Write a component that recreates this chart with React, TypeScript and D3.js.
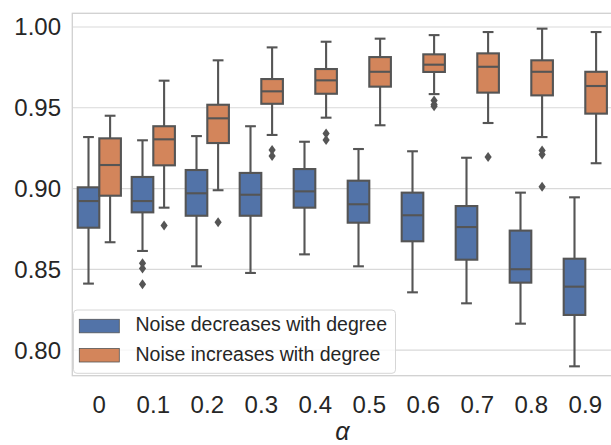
import React from "react";
import * as d3 from "d3";

const categories = ["0", "0.1", "0.2", "0.3", "0.4", "0.5", "0.6", "0.7", "0.8", "0.9"];
const seriesNames = ["Noise decreases with degree", "Noise increases with degree"];
const yTicks = [0.8, 0.85, 0.9, 0.95, 1.0];

// Blue series: Noise decreases with degree
const decLow = [0.8412, 0.8614, 0.8519, 0.8478, 0.8593, 0.8519, 0.8358, 0.829, 0.8164, 0.79];
const decQ1 = [0.8758, 0.8853, 0.8832, 0.8832, 0.8882, 0.8789, 0.8674, 0.856, 0.8418, 0.8218];
const decMed = [0.8923, 0.8923, 0.8971, 0.8962, 0.8983, 0.8903, 0.8835, 0.8762, 0.8501, 0.8393];
const decQ3 = [0.9008, 0.9072, 0.9115, 0.9097, 0.9121, 0.9049, 0.8975, 0.8892, 0.874, 0.8566];
const decHigh = [0.9319, 0.9299, 0.9325, 0.9386, 0.929, 0.9245, 0.9231, 0.9191, 0.8975, 0.8946];
const decOut = [[], [0.8538, 0.8505, 0.8408], [], [], [], [], [], [], [], []];

// Orange series: Noise increases with degree
const incLow = [0.8668, 0.8882, 0.899, 0.9332, 0.9439, 0.9392, 0.9585, 0.9406, 0.9319, 0.9157];
const incQ1 = [0.8956, 0.9144, 0.9282, 0.9525, 0.9587, 0.9631, 0.9722, 0.9594, 0.9577, 0.9464];
const incMed = [0.9146, 0.9305, 0.9435, 0.9602, 0.967, 0.9723, 0.9767, 0.9754, 0.9723, 0.9635];
const incQ3 = [0.9311, 0.9386, 0.9519, 0.9678, 0.974, 0.9814, 0.9831, 0.9837, 0.9794, 0.9723];
const incHigh = [0.9451, 0.9668, 0.9794, 0.9874, 0.9909, 0.9928, 0.995, 0.9969, 0.999, 0.9969];
const incOut = [[], [0.8771], [0.8791], [0.9239, 0.9202], [0.9341, 0.9301], [], [0.9545, 0.952, 0.951], [0.9196], [0.9236, 0.9211, 0.9012], []];

const colors = ["#5273a8", "#d3855b"];
const lineColor = "#555555";
const gridColor = "#d9d9d9";
const textColor = "#262626";
const font = "Arial, 'Liberation Sans', sans-serif";

const series = [
  { name: seriesNames[0], low: decLow, q1: decQ1, med: decMed, q3: decQ3, high: decHigh, out: decOut },
  { name: seriesNames[1], low: incLow, q1: incQ1, med: incMed, q3: incQ3, high: incHigh, out: incOut },
];

export default function App() {
  const W = 611, H = 445;
  const left = 72.3, right = 612.3, top = 13.3, bottom = 375.7;
  const x = d3.scaleBand<string>().domain(categories).range([left, right]).padding(0);
  const step = x.step();
  const inner = d3.scaleBand<string>().domain(seriesNames).range([0.1 * step, 0.9 * step]).padding(0);
  const y = d3.scaleLinear().domain([0.7842, 1.0085]).range([bottom, top]);
  const bw = inner.bandwidth();
  const lw = 2.1;

  const diamond = (cx: number, cy: number) =>
    `M${cx},${cy - 5}L${cx + 3.6},${cy}L${cx},${cy + 5}L${cx - 3.6},${cy}Z`;

  return (
    <svg width={W} height={H} style={{ position: "absolute", left: 0, top: 0 }} fontFamily={font}>
      <rect x={0} y={0} width={W} height={H} fill="#fff" />
      {yTicks.map((t) => (
        <line key={t} x1={left} x2={right} y1={y(t)} y2={y(t)} stroke={gridColor} strokeWidth={1.1} />
      ))}
      <rect x={left} y={top} width={right - left} height={bottom - top} fill="none" stroke="#d0d0d0" strokeWidth={1.3} />
      {yTicks.map((t) => (
        <text key={t} x={61} y={y(t)} dy="0.35em" textAnchor="end" fontSize={24} fill={textColor}>
          {d3.format(".2f")(t)}
        </text>
      ))}
      {categories.map((c) => (
        <text key={c} x={(x(c) as number) + step / 2} y={413} textAnchor="middle" fontSize={24} fill={textColor}>
          {c}
        </text>
      ))}
      <text x={(left + right) / 2} y={440} textAnchor="middle" fontSize={25} fontStyle="italic" fill={textColor}>
        α
      </text>
      {series.map((s, si) =>
        categories.map((c, i) => {
          const x0 = (x(c) as number) + (inner(s.name) as number);
          const cx = x0 + bw / 2;
          return (
            <g key={`${si}-${c}`}>
              <line x1={cx} x2={cx} y1={y(s.high[i])} y2={y(s.q3[i])} stroke={lineColor} strokeWidth={lw} />
              <line x1={cx} x2={cx} y1={y(s.q1[i])} y2={y(s.low[i])} stroke={lineColor} strokeWidth={lw} />
              <line x1={cx - bw / 4} x2={cx + bw / 4} y1={y(s.high[i])} y2={y(s.high[i])} stroke={lineColor} strokeWidth={lw} />
              <line x1={cx - bw / 4} x2={cx + bw / 4} y1={y(s.low[i])} y2={y(s.low[i])} stroke={lineColor} strokeWidth={lw} />
              <rect x={x0} y={y(s.q3[i])} width={bw} height={y(s.q1[i]) - y(s.q3[i])} fill={colors[si]} stroke={lineColor} strokeWidth={lw} />
              <line x1={x0} x2={x0 + bw} y1={y(s.med[i])} y2={y(s.med[i])} stroke={lineColor} strokeWidth={lw} />
              {s.out[i].map((o, k) => (
                <path key={k} d={diamond(cx, y(o))} fill={lineColor} />
              ))}
            </g>
          );
        })
      )}
      <rect x={73.5} y={310} width={322} height={63.3} rx={3.5} fill="#fff" fillOpacity={0.8} stroke="#d6d6d6" strokeWidth={1} />
      {series.map((s, si) => (
        <g key={s.name}>
          <rect x={79.3} y={[319.3, 348.5][si]} width={40} height={13.5} fill={colors[si]} stroke={lineColor} strokeWidth={0.8} />
          <text x={135.5} y={[330.7, 361][si]} fontSize={19.5} fill={textColor}>
            {s.name}
          </text>
        </g>
      ))}
    </svg>
  );
}
